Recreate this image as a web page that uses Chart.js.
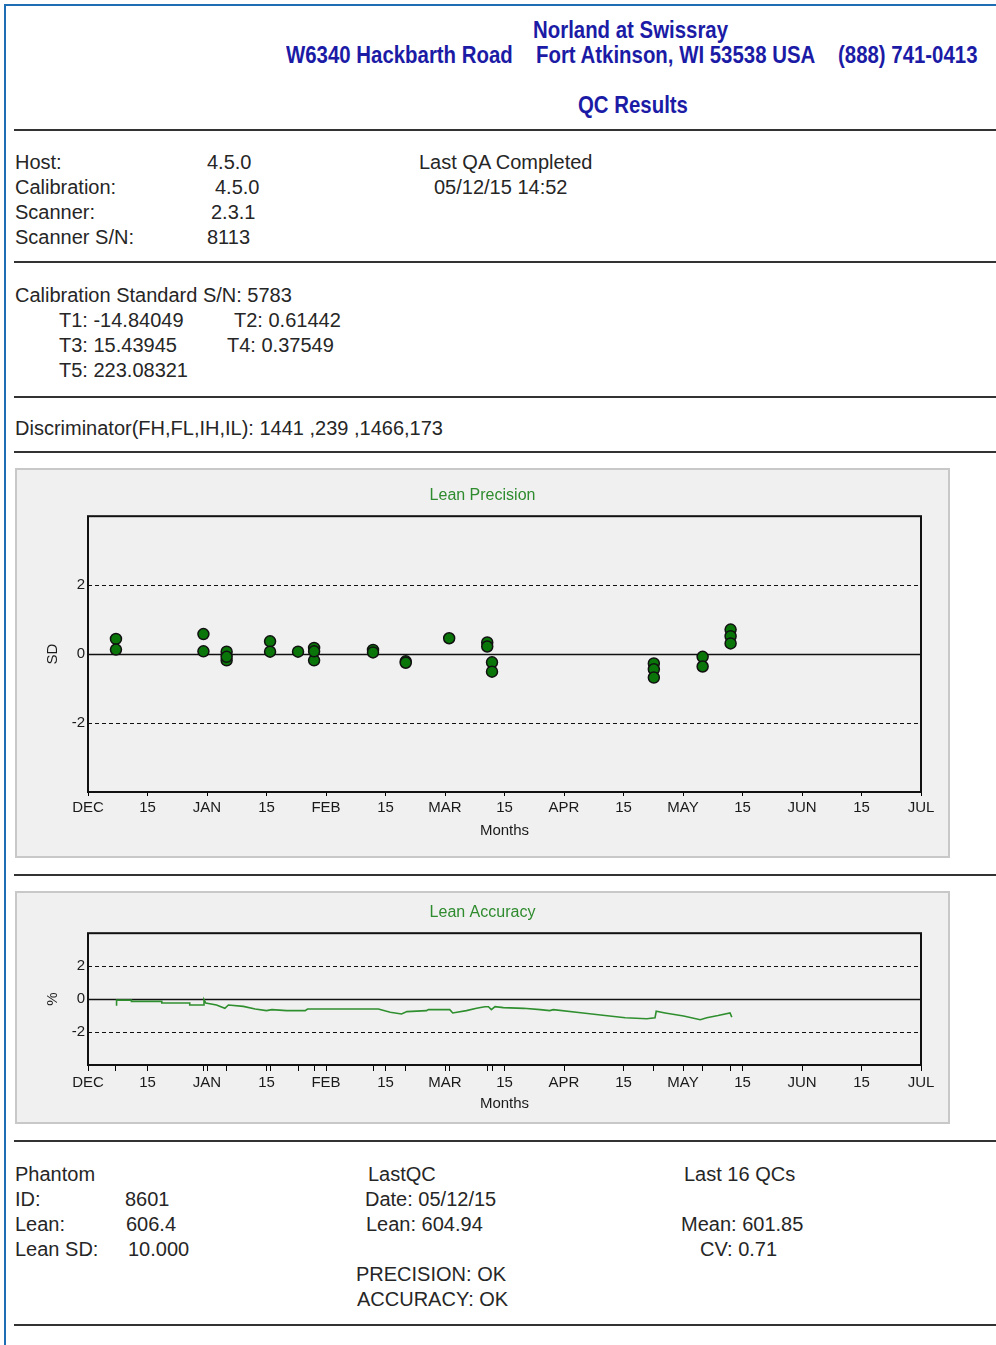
<!DOCTYPE html>
<html>
<head>
<meta charset="utf-8">
<title>QC Results</title>
<script src="https://cdn.jsdelivr.net/npm/chart.js@4/dist/chart.umd.min.js"></script>
<style>
  body { margin: 0; background: #fff; width: 996px; height: 1345px; position: relative; overflow: hidden; }
  .frame { position: absolute; left: 4px; top: 4px; width: 1000px; height: 1400px;
           border-left: 2px solid #1f6db3; border-top: 2px solid #1f6db3; }
  .rule { position: absolute; left: 14px; width: 982px; height: 2px; background: #333; }
  .t { position: absolute; white-space: nowrap; font-family: "Liberation Sans", Arial, sans-serif;
       font-size: 20px; line-height: 24px; color: #262626; }
  .h { position: absolute; white-space: nowrap; font-family: "Liberation Sans", Arial, sans-serif;
       font-weight: bold; font-size: 24px; line-height: 26px; color: #1b1ba6;
       transform: scaleX(0.85); transform-origin: 0 50%; }
  .panel { position: absolute; left: 15px; border: 2px solid #c8c8c8; background: #f0f0f0; }
  .panel canvas { display: block; }
</style>
</head>
<body>
<div class="frame"></div>

<div class="h" style="left:533px; top:17px;">Norland at Swissray</div>
<div class="h" style="left:286px; top:42px;">W6340 Hackbarth Road</div>
<div class="h" style="left:536px; top:42px;">Fort Atkinson, WI 53538 USA</div>
<div class="h" style="left:838px; top:42px;">(888) 741-0413</div>
<div class="h" style="left:578px; top:92px;">QC Results</div>
<div class="rule" style="top:129px;"></div>

<div class="t" style="left:15px; top:150px;">Host:</div>
<div class="t" style="left:207px; top:150px;">4.5.0</div>
<div class="t" style="left:15px; top:175px;">Calibration:</div>
<div class="t" style="left:215px; top:175px;">4.5.0</div>
<div class="t" style="left:15px; top:200px;">Scanner:</div>
<div class="t" style="left:211px; top:200px;">2.3.1</div>
<div class="t" style="left:15px; top:225px;">Scanner S/N:</div>
<div class="t" style="left:207px; top:225px;">8113</div>
<div class="t" style="left:419px; top:150px;">Last QA Completed</div>
<div class="t" style="left:434px; top:175px;">05/12/15 14:52</div>
<div class="rule" style="top:261px;"></div>

<div class="t" style="left:15px; top:283px;">Calibration Standard S/N: 5783</div>
<div class="t" style="left:59px; top:308px;">T1: -14.84049</div>
<div class="t" style="left:234px; top:308px;">T2: 0.61442</div>
<div class="t" style="left:59px; top:333px;">T3: 15.43945</div>
<div class="t" style="left:227px; top:333px;">T4: 0.37549</div>
<div class="t" style="left:59px; top:358px;">T5: 223.08321</div>
<div class="rule" style="top:396px;"></div>

<div class="t" style="left:15px; top:416px;">Discriminator(FH,FL,IH,IL): 1441 ,239 ,1466,173</div>
<div class="rule" style="top:451px;"></div>

<div class="panel" style="top:468px;"><canvas id="precisionChart" width="931" height="386"></canvas></div>
<div class="rule" style="top:874px;"></div>
<div class="panel" style="top:891px;"><canvas id="accuracyChart" width="931" height="229"></canvas></div>
<div class="rule" style="top:1140px;"></div>

<div class="t" style="left:15px; top:1162px;">Phantom</div>
<div class="t" style="left:15px; top:1187px;">ID:</div>
<div class="t" style="left:125px; top:1187px;">8601</div>
<div class="t" style="left:15px; top:1212px;">Lean:</div>
<div class="t" style="left:126px; top:1212px;">606.4</div>
<div class="t" style="left:15px; top:1237px;">Lean SD:</div>
<div class="t" style="left:128px; top:1237px;">10.000</div>
<div class="t" style="left:368px; top:1162px;">LastQC</div>
<div class="t" style="left:365px; top:1187px;">Date: 05/12/15</div>
<div class="t" style="left:366px; top:1212px;">Lean: 604.94</div>
<div class="t" style="left:356px; top:1262px;">PRECISION: OK</div>
<div class="t" style="left:357px; top:1287px;">ACCURACY: OK</div>
<div class="t" style="left:684px; top:1162px;">Last 16 QCs</div>
<div class="t" style="left:681px; top:1212px;">Mean: 601.85</div>
<div class="t" style="left:700px; top:1237px;">CV: 0.71</div>
<div class="rule" style="top:1324px;"></div>

<script>
// x axis runs in half-month steps from DEC (0) to JUL (14)
const monthLabels = ['DEC', '15', 'JAN', '15', 'FEB', '15', 'MAR', '15', 'APR', '15', 'MAY', '15', 'JUN', '15', 'JUL'];
const yTicks = [-2, 0, 2];
const refLines = [-2, 0, 2];

// Lean precision: one entry per QC scan (position in half-months, SD)
const precPos = [0.47, 0.47, 1.94, 1.94, 2.33, 2.33, 2.33, 3.06, 3.06, 3.53,
                 3.80, 3.80, 3.80, 4.79, 4.79, 5.34, 5.34, 6.07, 6.71, 6.71,
                 6.79, 6.79, 9.51, 9.51, 9.51, 10.33, 10.33, 10.80, 10.80, 10.80];
const precSD = [0.44, 0.13, 0.58, 0.08, 0.07, -0.18, -0.08, 0.37, 0.07, 0.07,
                0.18, -0.18, 0.08, 0.12, 0.05, -0.21, -0.25, 0.46, 0.34, 0.22,
                -0.24, -0.51, -0.27, -0.44, -0.68, -0.08, -0.36, 0.71, 0.52, 0.31];

// Lean accuracy trace (position in half-months, %)
const accPos = [0.48, 0.48, 0.73, 0.73, 1.24, 1.24, 1.71, 1.71, 1.95, 1.95,
                1.98, 2.16, 2.30, 2.36, 2.61, 2.81, 3.00, 3.09, 3.34, 3.65,
                3.69, 4.07, 4.88, 5.08, 5.27, 5.36, 5.69, 5.72, 6.08, 6.13,
                6.36, 6.53, 6.67, 6.73, 6.78, 6.84, 6.98, 7.32, 7.60, 7.76,
                7.82, 8.32, 8.69, 9.03, 9.39, 9.53, 9.55, 9.70, 10.01, 10.29,
                10.40, 10.59, 10.79, 10.82];
const accPct = [-0.40, -0.06, -0.06, -0.14, -0.14, -0.24, -0.24, -0.36, -0.36, -0.04,
                -0.24, -0.36, -0.56, -0.36, -0.44, -0.60, -0.70, -0.64, -0.70, -0.70,
                -0.60, -0.60, -0.60, -0.80, -0.90, -0.76, -0.70, -0.64, -0.64, -0.84,
                -0.70, -0.56, -0.46, -0.46, -0.64, -0.46, -0.52, -0.56, -0.64, -0.70,
                -0.64, -0.84, -1.00, -1.13, -1.19, -1.13, -0.74, -0.84, -1.03, -1.25,
                -1.13, -1.00, -0.84, -1.09];

// QC dates get a small tick under the accuracy axis
const qcTickPos = [...new Set(precPos)];

const FONT = '"Liberation Sans", Arial, sans-serif';

const framePlugin = {
  id: 'frame',
  beforeDatasetsDraw(chart) {
    const { ctx, chartArea: a, scales: { y } } = chart;
    ctx.save();
    ctx.strokeStyle = '#111';
    refLines.forEach(v => {
      const py = Math.round(y.getPixelForValue(v)) + 0.5;
      ctx.setLineDash(v === 0 ? [] : [4, 3]);
      ctx.lineWidth = v === 0 ? 1.5 : 1.2;
      ctx.beginPath();
      ctx.moveTo(a.left, py);
      ctx.lineTo(a.right, py);
      ctx.stroke();
    });
    ctx.setLineDash([]);
    ctx.lineWidth = 2;
    ctx.strokeRect(a.left, a.top, a.right - a.left, a.bottom - a.top);
    ctx.restore();
  }
};

function makeOptions(cfg) {
  return {
    responsive: false,
    animation: false,
    layout: { padding: 0 },
    plugins: {
      legend: { display: false },
      tooltip: { enabled: false },
      title: {
        display: true,
        text: cfg.title,
        color: '#2e8b2e',
        font: { family: FONT, size: 16, weight: 'normal' },
        padding: cfg.titlePad
      }
    },
    scales: {
      x: {
        type: 'linear',
        min: 0,
        max: 14,
        afterBuildTicks: s => {
          const vals = monthLabels.map((_, i) => i).concat(cfg.extraTicks);
          s.ticks = vals.sort((p, q) => p - q).map(v => ({ value: v }));
        },
        afterFit: s => { s.height = cfg.xHeight; },
        ticks: {
          autoSkip: false,
          maxRotation: 0,
          padding: 3,
          color: '#1a1a1a',
          font: { family: FONT, size: 15 },
          callback: v => Number.isInteger(v) ? monthLabels[v] : ''
        },
        grid: { drawOnChartArea: false, drawTicks: true, tickLength: cfg.tickLen, color: '#000', tickColor: '#000' },
        border: { display: false },
        title: {
          display: true,
          text: 'Months',
          color: '#1a1a1a',
          font: { family: FONT, size: 15 },
          padding: { top: 0, bottom: cfg.monthsPad }
        }
      },
      y: {
        min: -4,
        max: 4,
        afterBuildTicks: s => { s.ticks = yTicks.map(v => ({ value: v })); },
        afterFit: s => { s.width = 71; },
        ticks: { padding: 3, color: '#1a1a1a', font: { family: FONT, size: 15 } },
        grid: { display: false, drawTicks: false, tickLength: 0 },
        border: { display: false },
        title: {
          display: true,
          text: cfg.yTitle,
          color: '#1a1a1a',
          font: { family: FONT, size: 15 },
          padding: { top: 27, bottom: 0 }
        }
      },
      // empty strip on the right so the title centres on the panel
      yRight: {
        position: 'right',
        afterFit: s => { s.width = 27; },
        ticks: { display: false },
        grid: { display: false },
        border: { display: false }
      }
    }
  };
}

new Chart(document.getElementById('precisionChart'), {
  type: 'scatter',
  data: {
    datasets: [{
      label: 'Lean Precision',
      data: precPos.map((x, i) => ({ x: x, y: precSD[i] })),
      pointRadius: 5.5,
      pointBackgroundColor: '#0a760a',
      pointBorderColor: '#111',
      pointBorderWidth: 1.5
    }]
  },
  options: makeOptions({
    title: 'Lean Precision', titlePad: { top: 16, bottom: 11 },
    xHeight: 64, tickLen: 4, monthsPad: 16, yTitle: 'SD', extraTicks: []
  }),
  plugins: [framePlugin]
});

new Chart(document.getElementById('accuracyChart'), {
  type: 'line',
  data: {
    datasets: [{
      label: 'Lean Accuracy',
      data: accPos.map((x, i) => ({ x: x, y: accPct[i] })),
      borderColor: '#2f8f2f',
      borderWidth: 1.6,
      pointRadius: 0,
      tension: 0,
      fill: false
    }]
  },
  options: makeOptions({
    title: 'Lean Accuracy', titlePad: { top: 10, bottom: 11 },
    xHeight: 57, tickLen: 6, monthsPad: 9, yTitle: '%', extraTicks: qcTickPos
  }),
  plugins: [framePlugin]
});
</script>
</body>
</html>
